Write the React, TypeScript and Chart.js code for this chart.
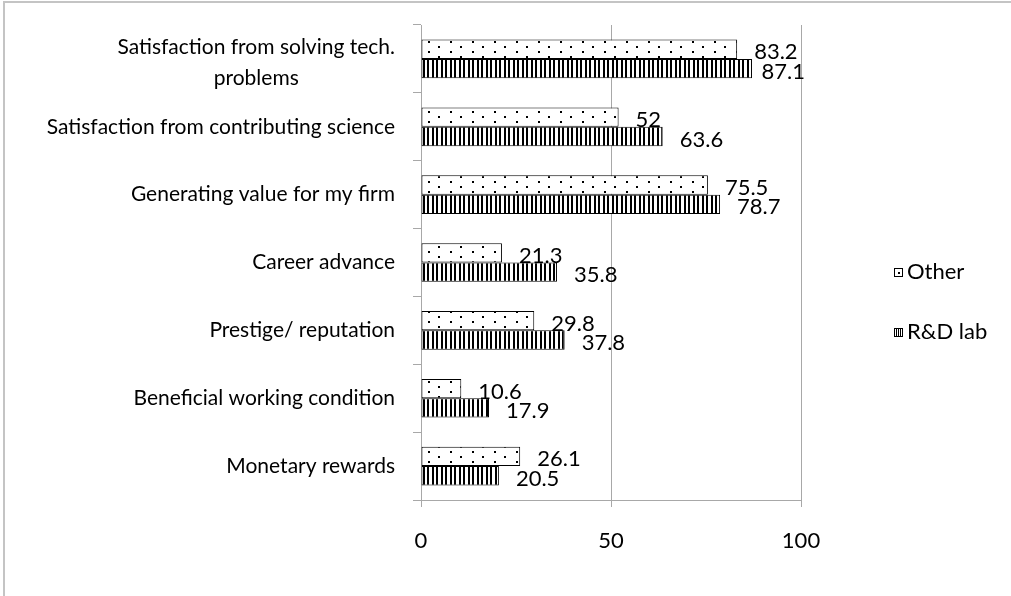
import { useEffect, useRef } from "react";
import { Chart, registerables } from "chart.js";

Chart.register(...registerables);

// Category labels, top to bottom (array = wrapped label)
const categories: (string | string[])[] = [
  ["Satisfaction from solving tech.", "problems"],
  "Satisfaction from contributing science",
  "Generating value for my firm",
  "Career advance",
  "Prestige/ reputation",
  "Beneficial working condition",
  "Monetary rewards",
];

const seriesNames = ["Other", "R&D lab"];
const otherValues = [83.2, 52, 75.5, 21.3, 29.8, 10.6, 26.1];
const rdLabValues = [87.1, 63.6, 78.7, 35.8, 37.8, 17.9, 20.5];
const xTickValues = [0, 50, 100];

const FONT = "Lato";
const GRID = "#a8a8a8";

function makeDotPattern(ctx: CanvasRenderingContext2D): CanvasPattern {
  const c = document.createElement("canvas");
  c.width = 22;
  c.height = 10;
  const g = c.getContext("2d")!;
  g.fillStyle = "#ffffff";
  g.fillRect(0, 0, 22, 10);
  g.fillStyle = "#000000";
  g.fillRect(10, 1, 2, 2);
  g.fillRect(20, 6, 2, 2);
  return ctx.createPattern(c, "repeat")!;
}

function makeStripePattern(ctx: CanvasRenderingContext2D): CanvasPattern {
  const c = document.createElement("canvas");
  c.width = 9;
  c.height = 4;
  const g = c.getContext("2d")!;
  g.fillStyle = "#ffffff";
  g.fillRect(0, 0, 9, 4);
  g.fillStyle = "#000000";
  g.fillRect(0, 0, 2, 4);
  g.fillRect(4, 0, 2, 4);
  return ctx.createPattern(c, "repeat")!;
}

const decorations = {
  id: "decorations",
  beforeDraw(chart: any) {
    const ctx = chart.ctx as CanvasRenderingContext2D;
    ctx.save();
    ctx.fillStyle = "#ffffff";
    ctx.fillRect(0, 0, chart.width, chart.height);
    // outer chart frame
    ctx.fillStyle = "#c4c4c4";
    ctx.fillRect(3, 1, chart.width, 2);
    ctx.fillRect(3, 1, 2, chart.height);
    ctx.restore();
  },
  afterDraw(chart: any) {
    const ctx = chart.ctx as CanvasRenderingContext2D;
    const yScale = chart.scales.y;
    const area = chart.chartArea;
    ctx.save();
    ctx.fillStyle = "#000000";

    // category labels
    ctx.font = `21px ${FONT}`;
    ctx.textBaseline = "middle";
    const labelRight = area.left - 26;
    categories.forEach((cat, i) => {
      const cy = yScale.getPixelForTick(i);
      if (Array.isArray(cat)) {
        const widths = cat.map((l) => ctx.measureText(l).width);
        const widest = Math.max(...widths);
        const mid = labelRight - widest / 2;
        const lineH = 31;
        const start = cy + 4 - ((cat.length - 1) * lineH) / 2;
        ctx.textAlign = "center";
        cat.forEach((line, k) => ctx.fillText(line, mid, start + k * lineH));
      } else {
        ctx.textAlign = "right";
        ctx.fillText(cat, labelRight, cy);
      }
    });

    // value labels at bar ends, kept inside the plot's right edge
    ctx.font = `22px ${FONT}`;
    ctx.textAlign = "left";
    chart.data.datasets.forEach((ds: any, di: number) => {
      const meta = chart.getDatasetMeta(di);
      meta.data.forEach((bar: any, i: number) => {
        const text = String(ds.data[i]);
        const w = ctx.measureText(text).width;
        const x = Math.min(bar.x + 17, area.right + 4 - w);
        ctx.fillText(text, x, bar.y + 3);
      });
    });

    // legend
    const legendX = 894;
    const legendY = [272, 332];
    ctx.font = `22px ${FONT}`;
    ctx.textAlign = "left";
    seriesNames.forEach((name, i) => {
      const y = legendY[i];
      const top = Math.round(y - 4.5);
      ctx.fillStyle = "#ffffff";
      ctx.fillRect(legendX, top, 9, 9);
      ctx.strokeStyle = "#000000";
      ctx.lineWidth = 1;
      ctx.strokeRect(legendX + 0.5, top + 0.5, 8, 8);
      ctx.fillStyle = "#000000";
      if (i === 0) {
        ctx.fillRect(legendX + 4, top + 4, 2, 2);
      } else {
        ctx.fillRect(legendX + 2, top + 1, 1, 7);
        ctx.fillRect(legendX + 4, top + 1, 1, 7);
        ctx.fillRect(legendX + 6, top + 1, 1, 7);
      }
      ctx.fillText(name, legendX + 13, y);
    });
    ctx.restore();
  },
};

export default function App() {
  const canvasRef = useRef<HTMLCanvasElement | null>(null);

  useEffect(() => {
    const canvas = canvasRef.current;
    if (!canvas) return;
    const ctx = canvas.getContext("2d")!;
    const dots = makeDotPattern(ctx);
    const stripes = makeStripePattern(ctx);

    const chart = new Chart(canvas, {
      type: "bar",
      data: {
        labels: categories as any,
        datasets: [
          {
            label: seriesNames[0],
            data: otherValues,
            backgroundColor: dots as any,
            borderColor: "#000000",
            borderWidth: 1,
            borderSkipped: false,
            categoryPercentage: 0.57,
            barPercentage: 1,
          },
          {
            label: seriesNames[1],
            data: rdLabValues,
            backgroundColor: stripes as any,
            borderColor: "#000000",
            borderWidth: 1,
            borderSkipped: false,
            categoryPercentage: 0.57,
            barPercentage: 1,
          },
        ],
      },
      options: {
        indexAxis: "y",
        responsive: false,
        animation: false,
        layout: { padding: { top: 25, right: 210, left: 0, bottom: 0 } },
        plugins: {
          legend: { display: false },
          tooltip: { enabled: false },
        },
        scales: {
          x: {
            min: 0,
            max: 100,
            afterBuildTicks: (s: any) => {
              s.ticks = xTickValues.map((v) => ({ value: v }));
            },
            afterFit: (s: any) => {
              s.height = 96;
            },
            grid: { color: GRID, tickLength: 7, lineWidth: 1 },
            border: { color: GRID, width: 1 },
            ticks: {
              color: "#000000",
              font: { family: FONT, size: 22 },
              padding: 21,
            },
          },
          y: {
            afterFit: (s: any) => {
              s.width = 421;
            },
            ticks: { display: false },
            grid: {
              drawOnChartArea: false,
              offset: true,
              tickLength: 8,
              color: GRID,
            },
            border: { color: GRID, width: 1 },
          },
        },
      },
      plugins: [decorations],
    });

    return () => chart.destroy();
  }, []);

  return (
    <div style={{ position: "fixed", left: 0, top: 0, width: 1011, height: 596, background: "#fff" }}>
      <canvas ref={canvasRef} width={1011} height={596} style={{ display: "block" }} />
    </div>
  );
}
